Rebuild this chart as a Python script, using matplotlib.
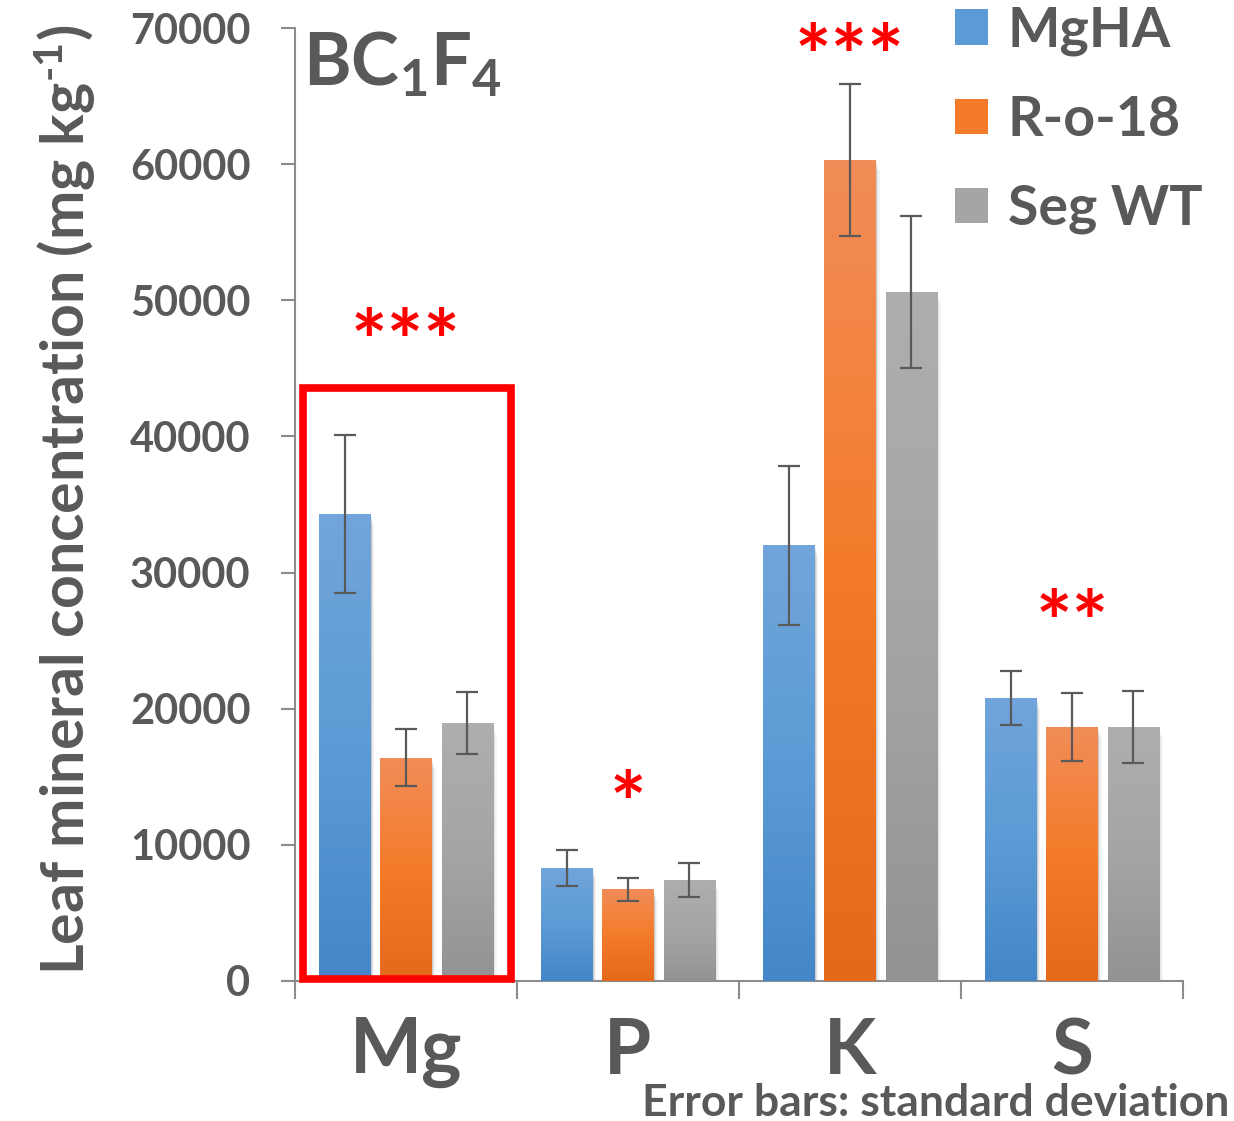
import numpy as np
import matplotlib.pyplot as plt
from matplotlib.patches import Patch, Rectangle
from matplotlib.colors import LinearSegmentedColormap

# values (mg/kg), error bars = standard deviation
elements = ['Mg', 'P', 'K', 'S']
genotypes = ['MgHA', 'R-o-18', 'Seg WT']
mgha = [34300, 8300, 32000, 20800]
ro18 = [16400, 6750, 60300, 18650]
segwt = [18950, 7400, 50600, 18650]
mgha_sd = [5800, 1350, 5850, 2000]
ro18_sd = [2100, 850, 5550, 2500]
segwt_sd = [2300, 1250, 5600, 2650]
stars = ['***', '*', '***', '**']

plt.rcParams['font.family'] = ['Lato', 'DejaVu Sans']
plt.rcParams['font.weight'] = 'bold'
plt.rcParams['axes.labelweight'] = 'bold'
plt.rcParams['mathtext.fontset'] = 'custom'
plt.rcParams['mathtext.rm'] = 'Lato:bold'
plt.rcParams['mathtext.it'] = 'Lato:bold'
plt.rcParams['mathtext.bf'] = 'Lato:bold'

txt = '#595959'
axc = '#8c8c8c'

# gradient stops: bottom, middle, top
grads = [['#4586C8', '#5B9BD5', '#71A5DB'],
         ['#E5691B', '#F47B2A', '#F18D58'],
         ['#939393', '#A5A5A5', '#AEAEAE']]

fig = plt.figure(figsize=(12.34, 11.21), dpi=100)
ax = fig.add_axes([295 / 1234, 1 - 981 / 1121, 888 / 1234, 953 / 1121])

x = np.arange(len(elements))
w = 0.23
step = 0.275
series = [(mgha, mgha_sd), (ro18, ro18_sd), (segwt, segwt_sd)]
grad_img = np.linspace(0, 1, 256).reshape(-1, 1)

for i, (vals, sd) in enumerate(series):
    pos = x + (i - 1) * step
    bars = ax.bar(pos, vals, w, color=grads[i][1], zorder=2)
    cmap = LinearSegmentedColormap.from_list('g%d' % i, grads[i])
    for b in bars:
        # soft shadow
        for k, a in enumerate([0.10, 0.07, 0.04]):
            sh = Rectangle((b.get_x() + 0.006 * (k + 1), 0), b.get_width(),
                           b.get_height() - 250 * (k + 1), color='k', alpha=a,
                           lw=0, zorder=1)
            ax.add_patch(sh)
        im = ax.imshow(grad_img, cmap=cmap, origin='lower', aspect='auto',
                       extent=[b.get_x(), b.get_x() + b.get_width(), 0, b.get_height()],
                       zorder=3)
        im.set_clip_path(b)
    ax.errorbar(pos, vals, yerr=sd, fmt='none', ecolor='#5a5a5a', elinewidth=1.6,
                capsize=8, capthick=1.6, zorder=4)

# significance stars
star_y = [46500, 12600, 67500, 25900]
for xi, s, yy in zip(x, stars, star_y):
    ax.text(xi, yy, s, color='red', fontsize=62, ha='center', va='center', zorder=5)

# red box around the Mg group
ax.add_patch(Rectangle((-0.464, 150), 0.937, 43400, fill=False, ec='red', lw=5.5,
                       zorder=5, clip_on=False))

ax.set_xlim(-0.5, 3.5)
ax.set_ylim(0, 70000)
ax.set_yticks(np.arange(0, 70001, 10000))
ax.set_xticks(np.arange(-0.5, 3.6, 1))
ax.set_xticklabels([])
ax.set_xticks(x, minor=True)
ax.set_xticklabels(elements, minor=True, fontsize=55, color=txt)
ax.tick_params(axis='x', which='major', length=13, width=1.5, color=axc)
ax.tick_params(axis='x', which='minor', length=0, pad=26)
ax.tick_params(axis='y', length=10, width=1.5, color=axc, labelsize=30,
               labelcolor=txt, pad=22)

for s in ['top', 'right']:
    ax.spines[s].set_visible(False)
for s in ['left', 'bottom']:
    ax.spines[s].set_color(axc)
    ax.spines[s].set_linewidth(1.5)

ax.set_ylabel('Leaf mineral concentration (mg kg$^{\u2010 1}$)', fontsize=42.5, color=txt,
              fontweight='bold')
ax.yaxis.set_label_coords(-0.222, 0.505)

ax.text(0.009, 0.998, 'BC$_1$F$_4$', transform=ax.transAxes, fontsize=52, color=txt,
        ha='left', va='top')

handles = [Patch(facecolor=g[1], label=n) for g, n in zip(grads, genotypes)]
leg = fig.legend(handles=handles, loc='upper left', bbox_to_anchor=(955 / 1234, 0.995),
                 frameon=False, fontsize=40, handlelength=0.6, handleheight=0.6,
                 handletextpad=0.35, labelspacing=0.7, borderpad=0, borderaxespad=0)
for t in leg.get_texts():
    t.set_color(txt)

fig.text(1229 / 1234, -0.002, 'Error bars: standard deviation', ha='right', va='bottom',
         fontsize=32, color=txt)

plt.savefig('out.png', dpi=100)
